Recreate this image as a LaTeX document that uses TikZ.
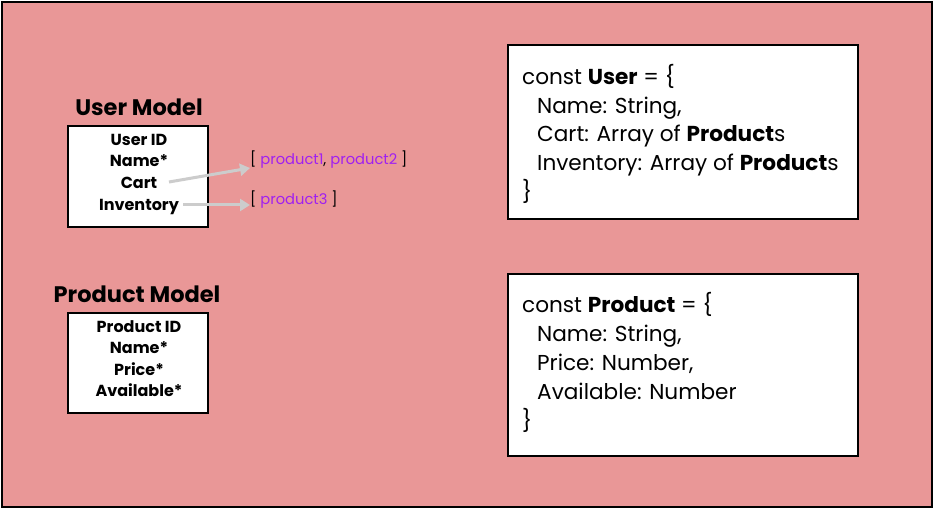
\documentclass[tikz,border=0pt]{standalone}
\usepackage{fontspec}
\setmainfont{Poppins}
\usetikzlibrary{arrows.meta}
\definecolor{bgpink}{HTML}{E99797}
\definecolor{arrgray}{HTML}{CCCCCC}
\definecolor{prodpurple}{HTML}{A020F0}
\begin{document}
\begin{tikzpicture}[x=1pt,y=-1pt,
  frame/.style={draw=black,line width=2.5pt,fill=bgpink},
  modelbox/.style={draw=black,line width=1.6pt,fill=white,minimum width=140pt,minimum height=101pt,inner sep=0pt,anchor=north west},
  codebox/.style={draw=black,line width=1.6pt,fill=white,inner sep=0pt,anchor=north west},
  title/.style={font=\fontsize{22.5}{26}\selectfont\bfseries},
  field/.style={font=\fontsize{16}{19}\selectfont\bfseries,anchor=base},
  code/.style={font=\fontsize{21.6}{24}\selectfont,anchor=base west,inner sep=0pt},
  arr/.style={draw=arrgray,line width=3pt,-{Triangle[length=10pt,width=12pt]}},
  list/.style={font=\fontsize{14.7}{17}\selectfont,anchor=base west,inner sep=0pt},
]
\useasboundingbox (0,0) rectangle (935,510);
\path[frame] (2,2) rectangle (932,507);

% User model
\node[title] (utitle) at (139,107) {User Model};
\node[modelbox,minimum height=101pt] (ubox) at (67,125) {};
\node[field] (uid) at (139,146) {User ID};
\node[field] (uname) at (139,167) {Name*};
\node[field] (ucart) at (139,189) {Cart};
\node[field] (uinv) at (139,211) {Inventory};

\node[list] (cartlist) at (250,165) {[ \textcolor{prodpurple}{product1}, \textcolor{prodpurple}{product2} ]};
\node[list] (invlist) at (250,205) {[ \textcolor{prodpurple}{product3} ]};
\coordinate (cs) at (169,182);
\coordinate (is) at (183,205);
\draw[arr] (cs) -- (cartlist.west |- 0,168) ;
\draw[arr] (is) -- (invlist.west |- 0,205);

% Product model
\node[title] (ptitle) at (137,294) {Product Model};
\node[modelbox,minimum height=100pt] (pbox) at (67,312) {};
\node[field] (pid) at (139,333) {Product ID};
\node[field] (pname) at (139,354) {Name*};
\node[field] (pprice) at (139,376) {Price*};
\node[field] (pavail) at (139,397) {Available*};

% Code boxes
\node[codebox,minimum width=350pt,minimum height=174pt] (ucode) at (507,44) {};
\node[code] (u1) at (522,85) {const \textbf{User} = \{};
\node[code] (u2) at (537,114) {Name: String,};
\node[code] (u3) at (537,142) {Cart: Array of \textbf{Product}s};
\node[code] (u4) at (537,171) {Inventory: Array of \textbf{Product}s};
\node[code] (u5) at (522,200) {\}};

\node[codebox,minimum width=350pt,minimum height=182pt] (pcode) at (507,273) {};
\node[code] (p1) at (522,313) {const \textbf{Product} = \{};
\node[code] (p2) at (537,342) {Name: String,};
\node[code] (p3) at (537,371) {Price: Number,};
\node[code] (p4) at (537,400) {Available: Number};
\node[code] (p5) at (522,429) {\}};
\end{tikzpicture}
\end{document}
